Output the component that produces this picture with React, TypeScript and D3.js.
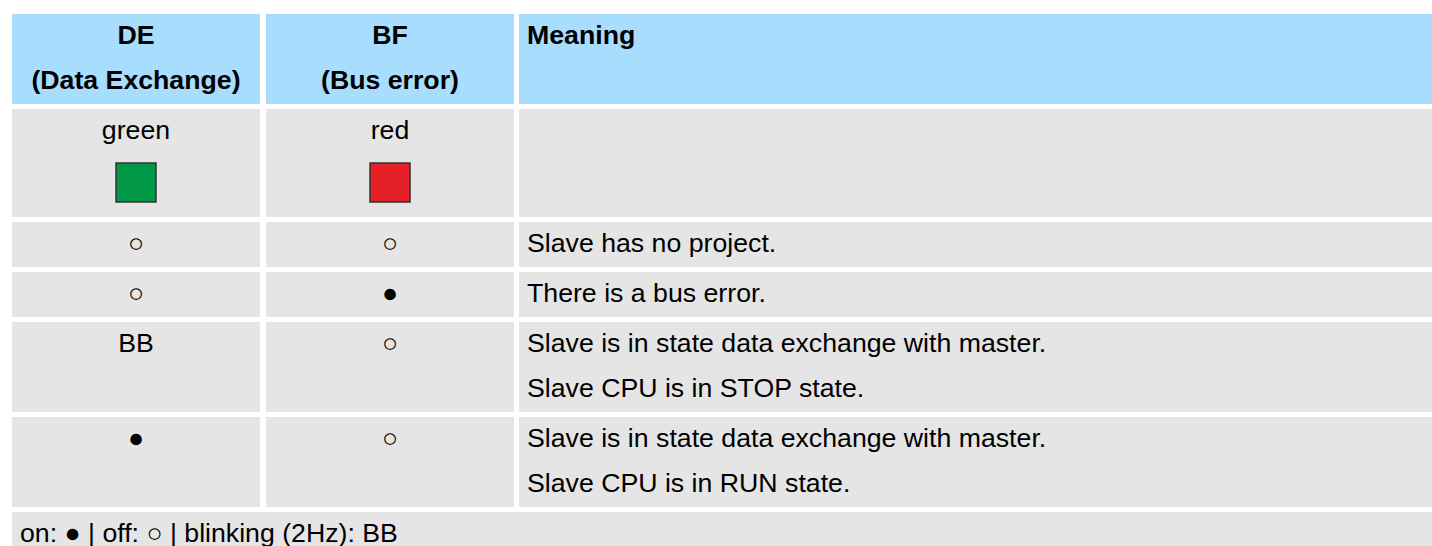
import React from "react"
import * as d3 from "d3"

// table content
const headerLines = [["DE", "(Data Exchange)"], ["BF", "(Bus error)"], ["Meaning"]]
const deStates = ["green", "○", "○", "BB", "●"]
const bfStates = ["red", "○", "●", "○", "○"]
const meanings = [
  [],
  ["Slave has no project."],
  ["There is a bus error."],
  ["Slave is in state data exchange with master.", "Slave CPU is in STOP state."],
  ["Slave is in state data exchange with master.", "Slave CPU is in RUN state."],
]
const legendText = "on: ● | off: ○ | blinking (2Hz): BB"

const LED_FILL: Record<string, string> = { green: "#009846", red: "#e41f26" }

const W = 1432
const H = 546
const TOP = 14
const GAP = 5
const LINE = 45
const FONT = "'Liberation Sans', Arial, Helvetica, sans-serif"
const HEAD_BG = "#a9ddfd"
const CELL_BG = "#e5e5e5"

export default function App() {
  // column edges [x0, x1]
  const cols: [number, number][] = [[12, 260], [266, 514], [519, W + 10]]
  const colX = d3.scaleOrdinal<number, [number, number]>().domain([0, 1, 2]).range(cols)

  // row heights: header, body rows, legend row
  const bodyLines = meanings.map((m, i) => (LED_FILL[deStates[i]] ? 2.4 : Math.max(1, m.length)))
  const heights = [2 * LINE, ...bodyLines.map(n => n * LINE), LINE]
  const tops = heights.map((_, i) => TOP + d3.sum(heights.slice(0, i)) + i * GAP)

  const cellText = (lines: string[], col: number, top: number, bold = false, key = "") => {
    const [x0, x1] = colX(col)
    const center = col < 2
    const x = center ? (x0 + x1) / 2 : x0 + 8
    return lines.map((t, j) => (
      <text key={key + j} x={x} y={top + 30 + j * (bold ? 44.5 : LINE)}
        textAnchor={center ? "middle" : "start"} fontWeight={bold ? "bold" : "normal"}>{t}</text>
    ))
  }

  return (
    <svg width={W} height={H} style={{ position: "absolute", left: 0, top: 0 }}
      fontFamily={FONT} fontSize={26.7} fill="#000">
      <rect width={W} height={H} fill="#fff" />
      {headerLines.map((lines, c) => {
        const [x0, x1] = colX(c)
        return (
          <g key={"h" + c}>
            <rect x={x0} y={tops[0]} width={x1 - x0} height={heights[0]} fill={HEAD_BG} />
            {cellText(lines, c, tops[0], true, "h" + c)}
          </g>
        )
      })}
      {meanings.map((m, i) => {
        const top = tops[i + 1]
        const h = heights[i + 1]
        return (
          <g key={"r" + i}>
            {[0, 1, 2].map(c => {
              const [x0, x1] = colX(c)
              return <rect key={c} x={x0} y={top} width={x1 - x0} height={h} fill={CELL_BG} />
            })}
            {[deStates[i], bfStates[i]].map((s, c) => {
              const [x0, x1] = colX(c)
              return (
                <g key={"s" + c}>
                  {cellText([s], c, top, false, "s" + c)}
                  {LED_FILL[s] && (
                    <rect x={(x0 + x1) / 2 - 20} y={top + 54} width={40} height={39}
                      fill={LED_FILL[s]} stroke="#333" strokeWidth={1.5} />
                  )}
                </g>
              )
            })}
            {cellText(m, 2, top, false, "m")}
          </g>
        )
      })}
      <rect x={12} y={tops[tops.length - 1]} width={W} height={LINE} fill={CELL_BG} />
      <text x={20} y={tops[tops.length - 1] + 30}>{legendText}</text>
    </svg>
  )
}
